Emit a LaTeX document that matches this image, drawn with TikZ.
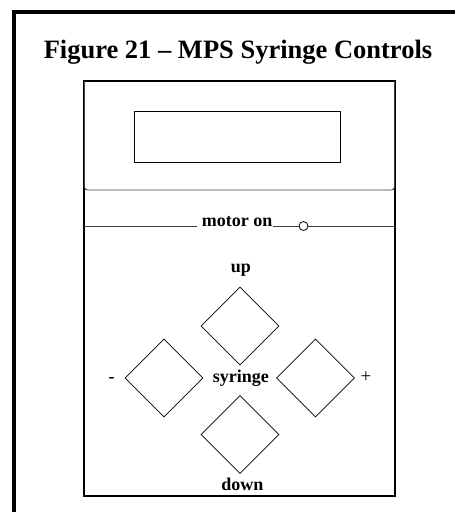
\documentclass[tikz,border=0pt]{standalone}
\usepackage{fontspec}
\setmainfont{Liberation Serif}
\usetikzlibrary{shapes.geometric}
\begin{document}
\begin{tikzpicture}[x=1pt,y=-1pt,
  lbl/.style={font=\bfseries\fontsize{18}{20}\selectfont, inner sep=0pt},
  key/.style={draw, diamond, aspect=1, minimum width=78pt, minimum height=78pt, inner sep=0pt, line width=0.8pt},
  thin/.style={line width=0.9pt, draw=black!75}]
\useasboundingbox (0,0) rectangle (455,512);
% outer frame (top and left edges visible)
\draw[line width=4pt] (14,512) -- (14,12) -- (455,12);
% title
\node[font=\bfseries\fontsize{26.5}{30}\selectfont, inner sep=0pt, anchor=base] (title) at (238,58.3) {Figure 21 – MPS Syringe Controls};
% device
\node[draw, line width=2.3pt, minimum width=311pt, minimum height=415pt, inner sep=0pt, outer sep=0pt] (dev) at (239.5,288.5) {};
% display panel
\draw[thin, rounded corners=3pt] (84.5,81) -- (84.5,190) -- (394.5,190) -- (394.5,81);
\node[draw, line width=1pt, minimum width=206pt, minimum height=51pt, inner sep=0pt] (lcd) at (237,136.5) {};
% motor on
\node[lbl, anchor=base west] (motor) at (201.7,226.7) {motor on};
\node[draw, circle, minimum size=9pt, inner sep=0pt, line width=0.8pt] (led) at (303.5,226) {};
\coordinate (ml) at (84,226.7);
\coordinate (mr) at (395,226.7);
\draw[thin] (ml) -- ([xshift=-5pt]motor.base west);
\draw[thin] (motor.base east) -- (led.west |- motor.base);
\draw[thin] (led.east |- mr) -- (mr);
% keys
\node[key] (kup) at (240,326) {};
\node[key] (kleft) at (164,378) {};
\node[key] (kright) at (315.5,378) {};
\node[key] (kdown) at (240,434.5) {};
% labels
\node[lbl, anchor=base] (lup) at (241,272.3) {up};
\node[lbl, anchor=base] (lsyr) at (240.8,382.3) {syringe};
\node[lbl, anchor=base] (ldown) at (242.5,490.7) {down};
\node[lbl, anchor=base] (lminus) at (111.7,382) {-};
\node[font=\fontsize{19}{20}\selectfont, inner sep=0pt, anchor=base] (lplus) at (366,382) {+};
\end{tikzpicture}
\end{document}
